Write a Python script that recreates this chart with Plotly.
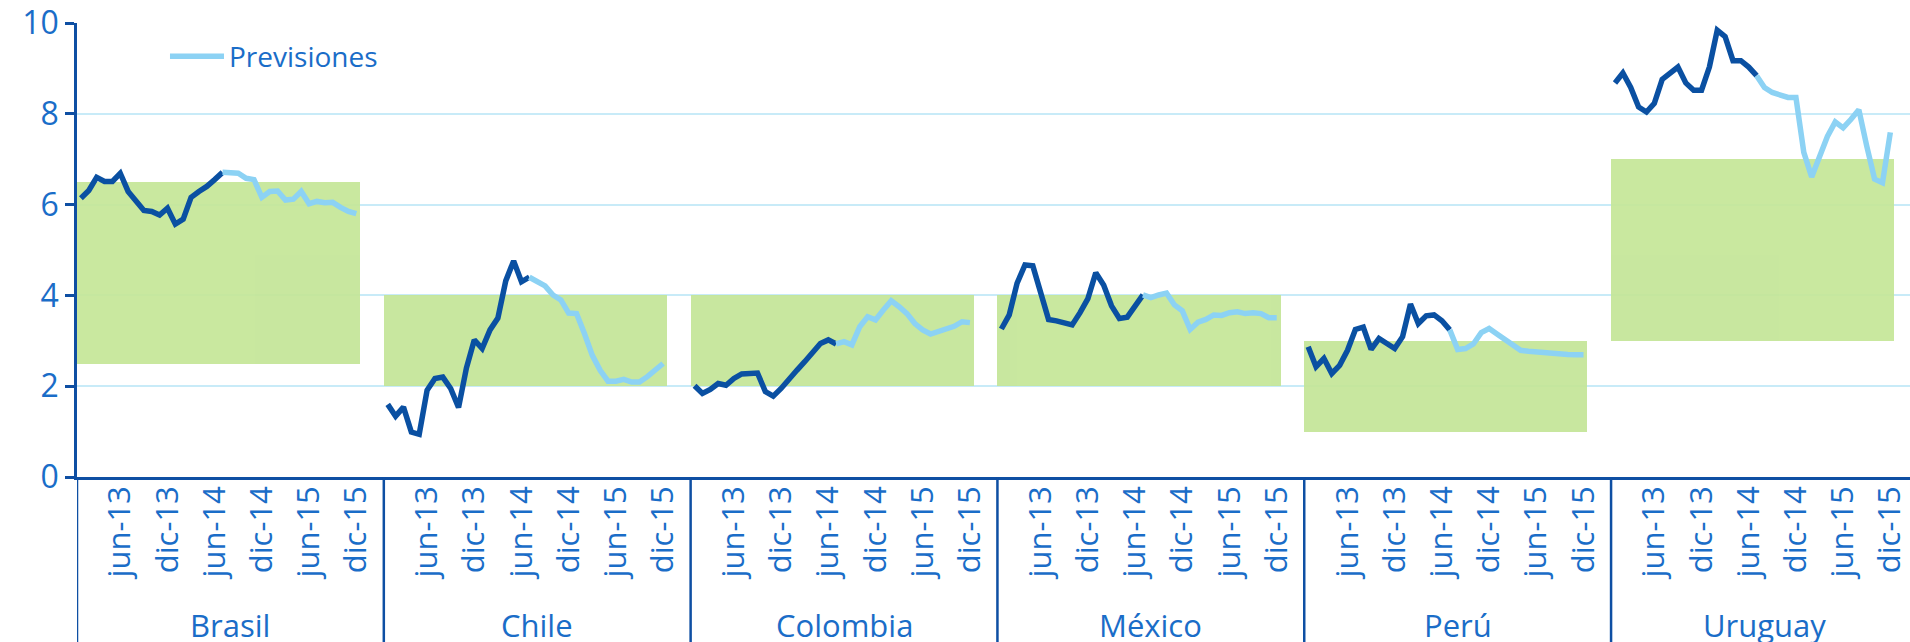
import plotly.graph_objects as go

countries = ["Brasil", "Chile", "Colombia", "México", "Perú", "Uruguay"]
band_low = [2.5, 2.0, 2.0, 2.0, 1.0, 3.0]
band_high = [6.5, 4.0, 4.0, 4.0, 3.0, 7.0]

# monthly inflation, ene-13 .. jul-14 (observed)
actual_brasil = [6.14, 6.31, 6.60, 6.51, 6.51, 6.69, 6.29, 6.10, 5.87, 5.85, 5.77, 5.92, 5.57, 5.68, 6.16, 6.29, 6.40, 6.55, 6.71]
actual_chile = [1.60, 1.34, 1.54, 0.99, 0.94, 1.91, 2.17, 2.20, 1.95, 1.53, 2.40, 3.02, 2.83, 3.24, 3.50, 4.32, 4.76, 4.30, 4.40]
actual_colombia = [2.01, 1.84, 1.93, 2.06, 2.02, 2.17, 2.27, 2.29, 2.29, 1.88, 1.78, 1.95, 2.17, 2.35, 2.54, 2.76, 2.94, 3.02, 2.93]
actual_mexico = [3.26, 3.57, 4.27, 4.67, 4.65, 4.08, 3.47, 3.44, 3.38, 3.35, 3.62, 3.93, 4.50, 4.23, 3.77, 3.49, 3.52, 3.77, 4.01]
actual_peru = [2.87, 2.43, 2.61, 2.28, 2.46, 2.79, 3.25, 3.30, 2.81, 3.05, 2.94, 2.83, 3.09, 3.81, 3.38, 3.55, 3.57, 3.44, 3.24]
actual_uruguay = [8.68, 8.90, 8.58, 8.15, 8.04, 8.23, 8.76, 8.90, 9.03, 8.68, 8.52, 8.52, 9.03, 9.84, 9.70, 9.17, 9.17, 9.03, 8.84]

# forecasts, jul-14 .. dic-15
fcst_brasil = [6.71, 6.71, 6.69, 6.58, 6.55, 6.16, 6.29, 6.30, 6.10, 6.12, 6.29, 6.02, 6.07, 6.04, 6.05, 5.94, 5.85, 5.80]
fcst_chile = [4.40, 4.30, 4.21, 4.01, 3.90, 3.61, 3.60, 3.16, 2.68, 2.35, 2.11, 2.11, 2.15, 2.09, 2.09, 2.21, 2.34, 2.50]
fcst_colombia = [2.93, 2.98, 2.91, 3.31, 3.53, 3.46, 3.68, 3.88, 3.75, 3.60, 3.38, 3.24, 3.15, 3.20, 3.25, 3.32, 3.42, 3.40]
fcst_mexico = [4.01, 3.95, 4.01, 4.05, 3.79, 3.66, 3.25, 3.41, 3.47, 3.57, 3.56, 3.62, 3.64, 3.60, 3.62, 3.60, 3.51, 3.51]
fcst_peru = [3.24, 2.81, 2.83, 2.93, 3.18, 3.27, 3.15, 3.03, 2.93, 2.79, 2.77, 2.75, 2.75, 2.74, 2.72, 2.70, 2.69, 2.69]
fcst_uruguay = [8.84, 8.58, 8.47, 8.41, 8.36, 8.36, 7.15, 6.61, 7.02, 7.50, 7.82, 7.69, 7.88, 8.09, 7.29, 6.56, 6.48, 7.59]

month_ticks = ["jun-13", "dic-13", "jun-14", "dic-14", "jun-15", "dic-15"]
tick_months = [5, 11, 17, 23, 29, 35]

actuals = [actual_brasil, actual_chile, actual_colombia, actual_mexico, actual_peru, actual_uruguay]
fcsts = [fcst_brasil, fcst_chile, fcst_colombia, fcst_mexico, fcst_peru, fcst_uruguay]

N_MONTHS = 36
SLOT = 39  # 36 months + 3 empty columns between countries
FCST_START = 18
n_cols = SLOT * (len(countries) - 1) + 38

DARK = "#0A50A2"
LIGHT = "#8CD2F4"
GREEN = "#C4E697"
TXT = "#1A6DC8"
AX = "#0E4FA3"
FONT = "Open Sans"

def xpos(g, i):
    return g * SLOT + i + 0.5

fig = go.Figure()

# target bands
fig.add_trace(go.Bar(
    x=[g * SLOT + N_MONTHS / 2 for g in range(len(countries))],
    y=[h - l for h, l in zip(band_high, band_low)],
    base=band_low,
    width=[N_MONTHS] * len(countries),
    marker=dict(color=GREEN, line=dict(width=0)),
    opacity=0.92,
    showlegend=False, hoverinfo="skip",
))

ax_x, ax_y, fc_x, fc_y = [], [], [], []
for g in range(len(countries)):
    for i, v in enumerate(actuals[g]):
        ax_x.append(xpos(g, i)); ax_y.append(v)
    ax_x.append(None); ax_y.append(None)
    for k, v in enumerate(fcsts[g]):
        fc_x.append(xpos(g, FCST_START + k)); fc_y.append(v)
    fc_x.append(None); fc_y.append(None)

fig.add_trace(go.Scatter(x=ax_x, y=ax_y, mode="lines", name="Observado",
                         line=dict(color=DARK, width=5.5), showlegend=False,
                         connectgaps=False))
fig.add_trace(go.Scatter(x=fc_x, y=fc_y, mode="lines", name="Previsiones",
                         line=dict(color=LIGHT, width=5.5), showlegend=True,
                         connectgaps=False))

tickvals, ticktext = [], []
for g in range(len(countries)):
    for m, t in zip(tick_months, month_ticks):
        tickvals.append(xpos(g, m)); ticktext.append(t)

# separators between countries, extending under the axis
for g in range(0, len(countries)):
    fig.add_shape(type="line", xref="x", yref="paper", x0=g * SLOT, x1=g * SLOT,
                  y0=0, y1=-0.37, line=dict(color=AX, width=2.5), layer="above")

for g, c in enumerate(countries):
    fig.add_annotation(x=g * SLOT + SLOT / 2, y=-0.325, xref="x", yref="paper",
                       text=c, showarrow=False, yanchor="middle",
                       font=dict(family=FONT, size=31, color=TXT))

fig.update_layout(
    width=1910, height=642,
    margin=dict(l=77, r=0, t=23, b=165),
    paper_bgcolor="white", plot_bgcolor="white",
    bargap=0,
    font=dict(family=FONT, color=TXT),
    legend=dict(x=0.048, y=0.981, xanchor="left", yanchor="top",
                font=dict(family=FONT, size=28, color=TXT),
                bgcolor="rgba(0,0,0,0)", itemwidth=54),
    xaxis=dict(range=[0, n_cols], tickmode="array", tickvals=tickvals, ticktext=ticktext,
               tickangle=-90, ticks="", showgrid=False, zeroline=False,
               showline=True, linecolor=AX, linewidth=2.5, ticklabelstandoff=-6,
               tickfont=dict(family=FONT, size=31, color=TXT)),
    yaxis=dict(range=[0, 10], dtick=2, ticks="outside", ticklen=9, tickwidth=2.5,
               tickcolor=AX, showline=True, linecolor=AX, linewidth=2.5,
               showgrid=True, gridcolor="#C8EBF8", gridwidth=2, zeroline=False,
               tickfont=dict(family=FONT, size=32, color=TXT)),
)

fig.write_html("out.html", config={"displayModeBar": False},
               post_script="document.body.style.margin='0';document.body.style.overflow='hidden';")
